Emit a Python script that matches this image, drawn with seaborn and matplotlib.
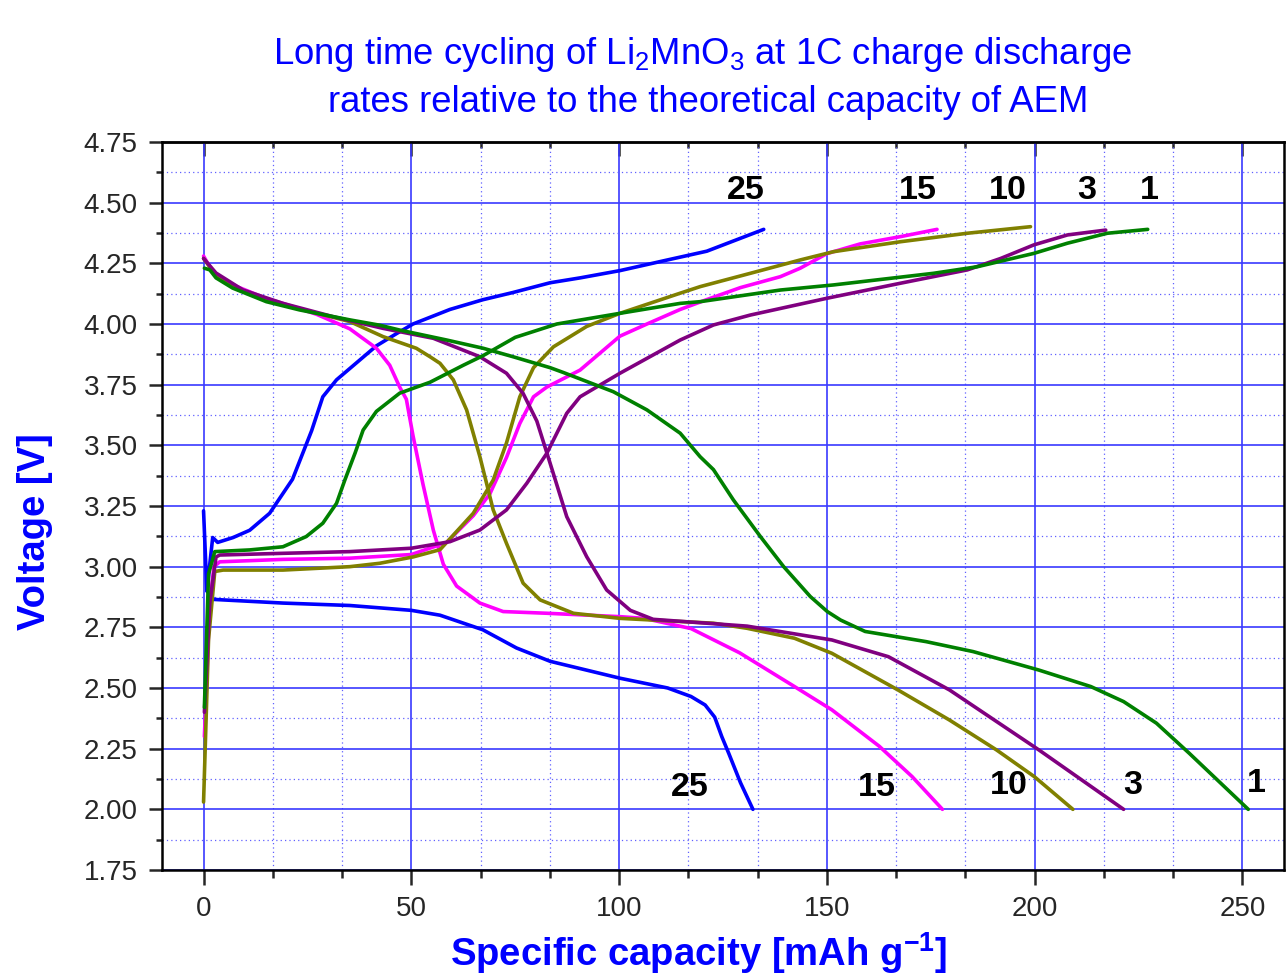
import matplotlib
matplotlib.use("Agg")
import matplotlib.pyplot as plt
import pandas as pd
import seaborn as sns
from matplotlib.ticker import MultipleLocator, FormatStrFormatter

# ---- data (capacity in mAh/g, voltage in V) ----
cycles = [25, 15, 10, 3, 1]
colors = {25: "#0000FF", 15: "#FF00FF", 10: "#808000", 3: "#800080", 1: "#008000"}

q25_chg = [0, 0.8, 2.2, 3.4, 7.1, 11.1, 15.9, 21.4, 26.0, 28.7, 32.0, 36.8, 41.6, 46.4,
           50.4, 59.3, 67.2, 74.5, 83.4, 90.6, 100.2, 110.6, 121.1, 134.8]
v25_chg = [3.23, 2.90, 3.12, 3.10, 3.12, 3.15, 3.22, 3.36, 3.56, 3.70, 3.77, 3.84, 3.91, 3.96,
           4.00, 4.06, 4.10, 4.13, 4.17, 4.19, 4.22, 4.26, 4.30, 4.39]
q25_dis = [0.8, 2.5, 19.1, 35.2, 50.0, 56.9, 67.2, 75.3, 83.4, 100.3, 111.7, 117.3, 120.7,
           123.0, 124.7, 126.4, 129.2, 132.2]
v25_dis = [2.90, 2.865, 2.85, 2.84, 2.82, 2.80, 2.74, 2.665, 2.61, 2.54, 2.50, 2.465, 2.43,
           2.38, 2.30, 2.23, 2.11, 2.00]

q15_chg = [0.2, 1.5, 2.5, 3.9, 19.1, 35.2, 50.0, 58.5, 64.9, 68.9, 72.9, 76.1, 79.4, 82.6,
           90.6, 100.2, 106.7, 114.7, 121.0, 129.2, 138.8, 143.6, 150.0, 158.0, 167.7, 176.5]
v15_chg = [2.30, 2.85, 3.00, 3.02, 3.03, 3.035, 3.05, 3.10, 3.21, 3.30, 3.45, 3.59, 3.70, 3.74,
           3.81, 3.95, 4.00, 4.06, 4.10, 4.15, 4.195, 4.23, 4.29, 4.33, 4.36, 4.39]
q15_dis = [0, 1, 3, 7.9, 15.1, 19.1, 27.2, 35.2, 41.6, 44.8, 47.2, 48.8, 50.4, 52.8, 55.3,
           57.7, 60.9, 66.5, 72.1, 82.6, 100.2, 106.0, 117.3, 129.0, 142.2, 151.2, 162.6,
           170.5, 177.8]
v15_dis = [4.28, 4.25, 4.20, 4.155, 4.105, 4.085, 4.04, 3.98, 3.90, 3.83, 3.74, 3.69, 3.54,
           3.34, 3.15, 3.01, 2.92, 2.85, 2.815, 2.808, 2.794, 2.787, 2.745, 2.645, 2.506, 2.41,
           2.26, 2.135, 2.00]

q10_chg = [0, 1.2, 2.7, 4.7, 19.1, 35.2, 42.4, 50.4, 56.9, 64.9, 69.7, 72.9, 76.1, 79.4,
           84.2, 92.2, 100.2, 114.7, 119.5, 131.6, 143.6, 151.6, 167.7, 183.8, 199.0]
v10_chg = [2.03, 2.70, 2.98, 2.986, 2.986, 3.0, 3.014, 3.04, 3.07, 3.22, 3.357, 3.51, 3.70,
           3.82, 3.906, 3.99, 4.044, 4.127, 4.154, 4.209, 4.264, 4.298, 4.339, 4.374, 4.401]
q10_dis = [0, 3, 9.5, 19.1, 35.2, 43.2, 51.2, 54.5, 56.9, 60.1, 63.3, 66.5, 69.7, 72.9, 76.9,
           81, 89, 100.2, 122.7, 130.8, 142.2, 151.2, 167.1, 179.5, 190.8, 199.9, 209.2]
v10_dis = [4.27, 4.20, 4.135, 4.08, 4.01, 3.948, 3.90, 3.865, 3.838, 3.77, 3.646, 3.453,
           3.234, 3.096, 2.932, 2.863, 2.808, 2.787, 2.767, 2.746, 2.705, 2.643, 2.492, 2.368,
           2.245, 2.135, 2.00]

q3_chg = [0.2, 1.5, 3.0, 3.9, 19.1, 35.2, 50.0, 59.3, 66.5, 72.9, 77.8, 82.6, 87.4, 90.6,
          100.2, 114.7, 122.7, 131.6, 150.0, 167.7, 183.8, 191.8, 199.8, 207.9, 217.1]
v3_chg = [2.40, 2.85, 3.04, 3.048, 3.055, 3.062, 3.076, 3.103, 3.151, 3.234, 3.344, 3.467,
          3.632, 3.70, 3.797, 3.934, 3.996, 4.037, 4.106, 4.168, 4.223, 4.27, 4.326, 4.367, 4.387]
q3_dis = [0, 3, 9.5, 19.1, 31.2, 43.2, 55.3, 66.5, 72.9, 76.9, 80.2, 83.4, 87.4, 92.2, 97,
          102.7, 108.2, 122.7, 130.8, 151.2, 164.8, 179.5, 201, 221.4]
v3_dis = [4.27, 4.21, 4.14, 4.085, 4.03, 3.982, 3.941, 3.865, 3.797, 3.714, 3.60, 3.426,
          3.206, 3.041, 2.904, 2.82, 2.783, 2.765, 2.755, 2.698, 2.629, 2.492, 2.245, 2.00]

q1_chg = [0.2, 1.2, 2.7, 11.1, 19.1, 24.7, 28.7, 32.0, 34.0, 36.5, 38.4, 41.6, 47.2, 54.5,
          62.5, 67.3, 75.0, 85.0, 100.2, 114.7, 119.5, 138.8, 151.6, 175.7, 186.2, 199.8,
          207.9, 217.5, 227.2]
v1_chg = [2.42, 2.97, 3.062, 3.069, 3.082, 3.124, 3.179, 3.261, 3.357, 3.47, 3.563, 3.64,
          3.715, 3.76, 3.83, 3.87, 3.945, 4.00, 4.044, 4.085, 4.092, 4.14, 4.161, 4.209, 4.236,
          4.291, 4.333, 4.374, 4.39]
q1_dis = [0.2, 1.5, 3, 7, 15.1, 23.1, 35.2, 42.4, 47.2, 58.5, 67.3, 74.5, 83.4, 86.6, 98.6,
          106.7, 114.7, 119.5, 122.7, 127.5, 134.0, 139.6, 146.0, 150.1, 153.3, 159.2, 173.9,
          185.2, 201.0, 213.5, 221.4, 229.3, 237.2, 251.4]
v1_dis = [4.23, 4.223, 4.19, 4.148, 4.092, 4.058, 4.017, 3.995, 3.975, 3.934, 3.90, 3.865,
          3.82, 3.80, 3.721, 3.646, 3.55, 3.453, 3.40, 3.275, 3.124, 3.0, 2.877, 2.815, 2.78,
          2.733, 2.691, 2.65, 2.574, 2.506, 2.444, 2.355, 2.231, 2.00]

curves = {
    25: [(q25_chg, v25_chg), (q25_dis, v25_dis)],
    15: [(q15_chg, v15_chg), (q15_dis, v15_dis)],
    10: [(q10_chg, v10_chg), (q10_dis, v10_dis)],
    3: [(q3_chg, v3_chg), (q3_dis, v3_dis)],
    1: [(q1_chg, v1_chg), (q1_dis, v1_dis)],
}

# cycle-number labels
top_label_q = [130.6, 172.0, 193.5, 212.5, 227.7]
top_label_v = [4.55, 4.55, 4.55, 4.55, 4.55]
bot_label_q = [117.0, 162.0, 193.7, 223.5, 253.4]
bot_label_v = [2.088, 2.088, 2.099, 2.10, 2.105]

# ---- style ----
sns.set_style("white")
plt.rcParams['font.family'] = ['Liberation Sans', 'DejaVu Sans']
plt.rcParams['mathtext.fontset'] = 'custom'
plt.rcParams['mathtext.rm'] = 'Liberation Sans'
plt.rcParams['mathtext.it'] = 'Liberation Sans:italic'
plt.rcParams['mathtext.bf'] = 'Liberation Sans:bold'

fig = plt.figure(figsize=(12.86, 9.75), dpi=100)
ax = fig.add_axes([162 / 1286, 1 - 870 / 975, 1122 / 1286, 728 / 975])

for cyc in cycles:
    for step, (q, v) in enumerate(curves[cyc]):
        df = pd.DataFrame({"q": q, "v": v})
        sns.lineplot(data=df, x="q", y="v", sort=False, estimator=None,
                     color=colors[cyc], lw=2.6, ax=ax, zorder=3)

for i, cyc in enumerate(cycles):
    ax.text(top_label_q[i], top_label_v[i], str(cyc), fontsize=24.5, fontweight='bold',
            ha='center', va='center', color='black', zorder=4)
    ax.text(bot_label_q[i], bot_label_v[i], str(cyc), fontsize=24.5, fontweight='bold',
            ha='center', va='center', color='black', zorder=4)

ax.set_xlim(-10, 260)
ax.set_ylim(1.75, 4.75)
ax.xaxis.set_major_locator(MultipleLocator(50))
ax.xaxis.set_minor_locator(MultipleLocator(50 / 3))
ax.yaxis.set_major_locator(MultipleLocator(0.25))
ax.yaxis.set_minor_locator(MultipleLocator(0.125))
ax.yaxis.set_major_formatter(FormatStrFormatter('%.2f'))

ax.set_axisbelow(True)
ax.grid(which='major', color='#3a3aff', lw=1.2)
ax.grid(which='minor', color='#6060ff', lw=0.9, linestyle=(0, (1, 2.5)))

for s in ax.spines.values():
    s.set_linewidth(1.8)
    s.set_color('black')

ax.tick_params(axis='x', which='major', direction='out', length=11, width=1.8,
               labelsize=20, pad=8, bottom=True, top=False)
ax.tick_params(axis='x', which='minor', direction='out', length=6, width=1.8,
               bottom=True, top=False)
ax.tick_params(axis='y', which='major', direction='out', length=9.5, width=1.8,
               labelsize=20, pad=8, left=True, right=False)
ax.tick_params(axis='y', which='minor', direction='out', length=4, width=1.8,
               left=True, right=False)

# inward ticks along the top edge
top = ax.secondary_xaxis('top')
top.xaxis.set_major_locator(MultipleLocator(50))
top.xaxis.set_minor_locator(MultipleLocator(50 / 3))
top.tick_params(which='major', direction='in', length=10, width=1.8, labeltop=False)
top.tick_params(which='minor', direction='in', length=4.5, width=1.8)
top.spines['top'].set_linewidth(1.8)

ax.set_xlabel('')
ax.set_ylabel('')

fig.text(703 / 1286, 1 - 64 / 975,
         r'Long time cycling of Li$_\mathregular{2}$MnO$_\mathregular{3}$ at 1C charge discharge',
         ha='center', va='baseline', fontsize=26.3, color='#0000FF')
fig.text(708 / 1286, 1 - 112 / 975,
         'rates relative to the theoretical capacity of AEM',
         ha='center', va='baseline', fontsize=26.3, color='#0000FF')
fig.text(699 / 1286, 1 - 966 / 975,
         r'Specific capacity [mAh g$^{\mathbf{-1}}$]',
         ha='center', va='baseline', fontsize=27.5, fontweight='bold', color='#0000FF')
fig.text(35 / 1286, 1 - 532 / 975, 'Voltage [V]', rotation=90,
         ha='center', va='center', fontsize=27.5, fontweight='bold', color='#0000FF')

fig.savefig('out.png', dpi=100)
